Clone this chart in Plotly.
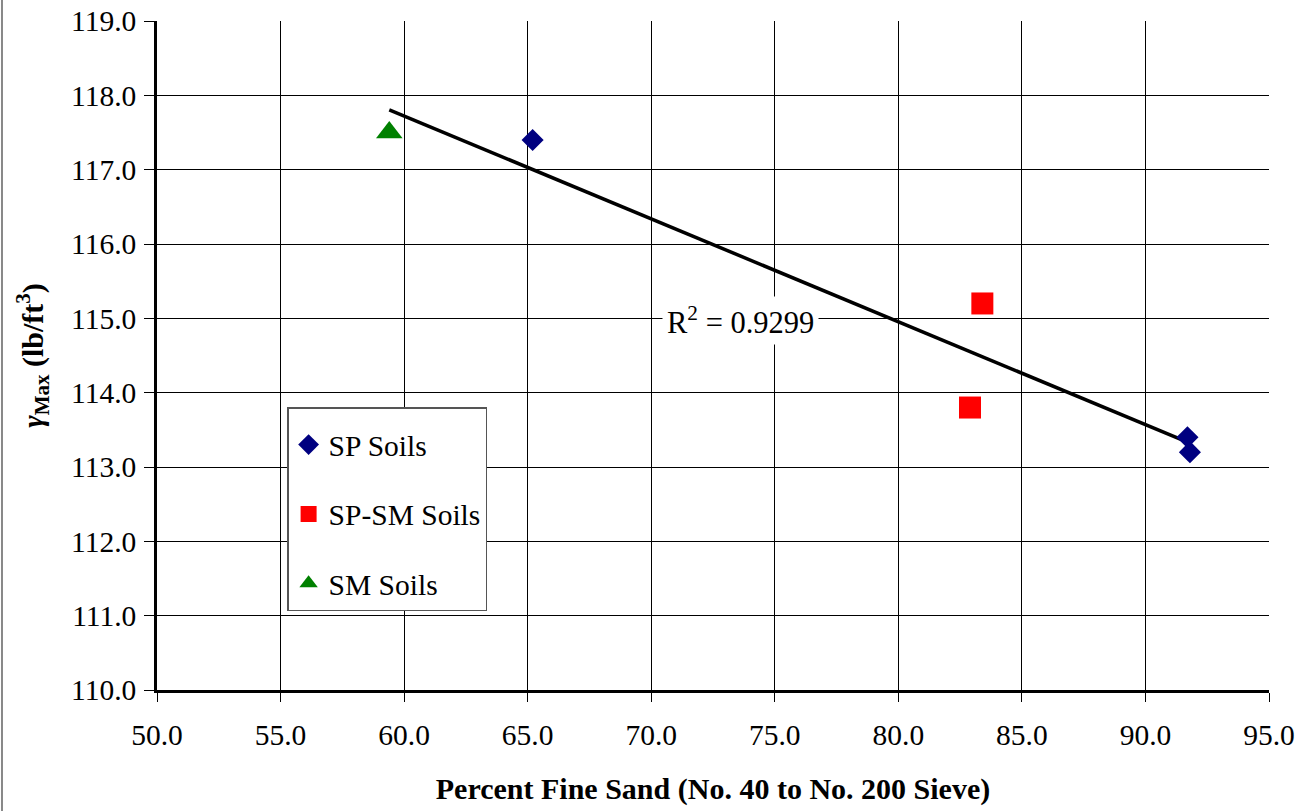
import numpy as np
import plotly.graph_objects as go

# Data
sp_x = [65.2, 91.7, 91.8]
sp_y = [117.4, 113.4, 113.2]
spsm_x = [83.4, 82.9]
spsm_y = [115.2, 113.8]
sm_x = [59.4]
sm_y = [117.5]
r2_label = "R<sup>2</sup> = 0.9299"

x_ticks = [50, 55, 60, 65, 70, 75, 80, 85, 90, 95]
y_ticks = [110, 111, 112, 113, 114, 115, 116, 117, 118, 119]

FONT = "Liberation Serif, Times New Roman, Tinos, DejaVu Serif, serif"

all_x = np.array(sp_x + spsm_x + sm_x)
all_y = np.array(sp_y + spsm_y + sm_y)
slope, intercept = np.polyfit(all_x, all_y, 1)
tx = np.array([all_x.min(), all_x.max()])
ty = slope * tx + intercept

fig = go.Figure()
fig.add_trace(go.Scatter(x=tx, y=ty, mode="lines", line=dict(color="black", width=3.5),
                         showlegend=False, hoverinfo="skip"))
fig.add_trace(go.Scatter(x=sp_x, y=sp_y, mode="markers", name="SP Soils", legendgroup="a",
                         marker=dict(symbol="diamond", size=17, color="#000080")))
fig.add_trace(go.Scatter(x=spsm_x, y=spsm_y, mode="markers", name="SP-SM Soils", legendgroup="b",
                         marker=dict(symbol="square", size=22, color="#FF0000")))
fig.add_trace(go.Scatter(x=sm_x, y=sm_y, mode="markers", name="SM Soils", legendgroup="c",
                         marker=dict(symbol="triangle-up", size=23, color="#008000")))

fig.add_annotation(x=73.6, y=114.97, text=r2_label, showarrow=False,
                   font=dict(family=FONT, size=30.5, color="black"),
                   bgcolor="white", borderpad=4)

fig.update_xaxes(range=[50, 95], tickvals=x_ticks, ticktext=[f"{v:.1f}" for v in x_ticks],
                 showgrid=True, gridcolor="black", gridwidth=1,
                 showline=True, linecolor="black", linewidth=2.5,
                 ticks="outside", ticklen=9, tickcolor="black", tickwidth=1,
                 tickfont=dict(family=FONT, size=29.5, color="black"), zeroline=False,
                 automargin=False, ticklabelstandoff=8, ticklabeloverflow="allow",
                 title=dict(text="<b>Percent Fine Sand (No. 40 to No. 200 Sieve)</b>",
                            font=dict(family=FONT, size=30, color="black"), standoff=28))
fig.update_yaxes(range=[110, 119], tickvals=y_ticks, ticktext=[f"{v:.1f}" for v in y_ticks],
                 showgrid=True, gridcolor="black", gridwidth=1,
                 showline=True, linecolor="black", linewidth=2.5,
                 ticks="outside", ticklen=10, tickcolor="black", tickwidth=1,
                 tickfont=dict(family=FONT, size=29.5, color="black"), zeroline=False,
                 automargin=False, ticklabelstandoff=2, ticklabeloverflow="allow",
                 title=dict(text="<b><i>γ</i><sub>Max</sub> (lb/ft<sup>3</sup>)</b>",
                            font=dict(family=FONT, size=30, color="black"), standoff=19))

# left frame line of chart area
fig.add_shape(type="line", xref="paper", yref="paper", x0=-0.1394, x1=-0.1394, y0=-0.2, y1=1.05,
              line=dict(color="#888888", width=2))

fig.update_layout(
    width=1304, height=811,
    margin=dict(l=157, r=35, t=21, b=121, autoexpand=False),
    paper_bgcolor="white", plot_bgcolor="white",
    legend=dict(x=0.117, y=0.423, xanchor="left", yanchor="top",
                bgcolor="white", bordercolor="#555555", borderwidth=1.5,
                font=dict(family=FONT, size=29.5, color="black"),
                title=dict(text=" ", font=dict(size=8)),
                traceorder="grouped", tracegroupgap=28, itemwidth=30),
    showlegend=True,
)

fig.write_html("out.html", config={"displayModeBar": False},
               post_script="document.body.style.margin='0';document.body.style.overflow='hidden';")
